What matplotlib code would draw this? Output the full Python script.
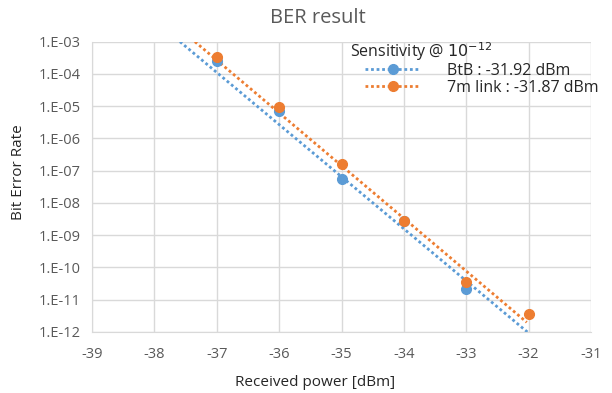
import numpy as np
import matplotlib
matplotlib.use("Agg")
import matplotlib.pyplot as plt
from matplotlib.ticker import FuncFormatter, FixedLocator

plt.rcParams['font.family'] = ['Open Sans', 'DejaVu Sans']

# measured points
power_btb = [-37, -36, -35, -34, -33]
ber_btb = [2.6e-4, 7.2e-6, 5.6e-8, 2.7e-9, 2.2e-11]
power_7m = [-37, -36, -35, -34, -33, -32]
ber_7m = [3.4e-4, 9.3e-6, 1.6e-7, 2.8e-9, 3.6e-11, 3.7e-12]
# trend lines (end points)
trend_btb_power = [-37.59, -32.02]
trend_btb_ber = [1e-3, 1e-12]
trend_7m_power = [-37.35, -32.03]
trend_7m_ber = [1e-3, 2.0e-12]

labels = ["BtB : -31.92 dBm", "7m link : -31.87 dBm"]
legend_title = "Sensitivity @ $10^{-12}$"
title = "BER result"
xlabel = "Received power [dBm]"
ylabel = "Bit Error Rate"
xticks = list(range(-39, -30))
yticks = [10.0 ** e for e in range(-12, -2)]

blue = "#5B9BD5"
orange = "#ED7D31"
gray_text = "#595959"
grid_c = "#D9D9D9"

W, H = 612, 393
fig = plt.figure(figsize=(W / 100, H / 100), dpi=100)
ax = fig.add_axes([92 / W, 1 - 332 / H, 499 / W, (332 - 41.7) / H])
ax.set_yscale("log")
ax.set_xlim(-39, -31)
ax.set_ylim(1e-12, 1e-3)

handles = []
for px, py, tx, ty, c in [(power_btb, ber_btb, trend_btb_power, trend_btb_ber, blue),
                          (power_7m, ber_7m, trend_7m_power, trend_7m_ber, orange)]:
    ax.plot(tx, ty, color=c, lw=2.0, linestyle=(0, (1, 1)), dash_capstyle='butt', zorder=2)
    ax.plot(px, py, 'o', color=c, ms=7, zorder=3)
    h, = ax.plot([], [], color=c, lw=2.0, linestyle=(0, (1, 1)), marker='o', ms=7)
    handles.append(h)

ax.xaxis.set_major_locator(FixedLocator(xticks))
ax.yaxis.set_major_locator(FixedLocator(yticks))
ax.yaxis.set_minor_locator(FixedLocator([]))
ax.yaxis.set_major_formatter(FuncFormatter(lambda v, p: "1.E%03d" % int(round(np.log10(v)))))
ax.xaxis.set_major_formatter(FuncFormatter(lambda v, p: "%d" % v))
ax.grid(True, color=grid_c, lw=1.0)
ax.set_axisbelow(True)
for s in ["top", "right"]:
    ax.spines[s].set_visible(False)
for s in ["left", "bottom"]:
    ax.spines[s].set_color(grid_c)
ax.tick_params(length=0, labelsize=10.5, colors=gray_text, pad=8)
ax.tick_params(axis='x', pad=11)

fig.text(318 / W, 1 - 18 / H, title, fontsize=14.5, color=gray_text, ha="center", va="center")
ax.set_xlabel(xlabel, fontsize=11, color="#262626")
ax.xaxis.set_label_coords((315 - 92) / 499, -(383 - 332) / 290.3, transform=ax.transAxes)
ax.xaxis.label.set_va("center")
ax.set_ylabel(ylabel, fontsize=11, color="#262626")
ax.yaxis.set_label_coords(-(92 - 19) / 499, (332 - 172) / 290.3, transform=ax.transAxes)
ax.yaxis.label.set_va("center")

fig.text(350 / W, 1 - 52 / H, legend_title, fontsize=11.5, color="#262626", ha="left", va="center")
leg = ax.legend(handles, labels, loc="upper left",
                bbox_to_anchor=(365 / W, 1 - 63 / H), bbox_transform=fig.transFigure,
                frameon=False, fontsize=11.5, handlelength=3.45, handletextpad=1.7,
                borderpad=0, borderaxespad=0, labelspacing=0.05)
for t in leg.get_texts():
    t.set_color("#262626")

fig.savefig("out.png", dpi=100, facecolor="white")
